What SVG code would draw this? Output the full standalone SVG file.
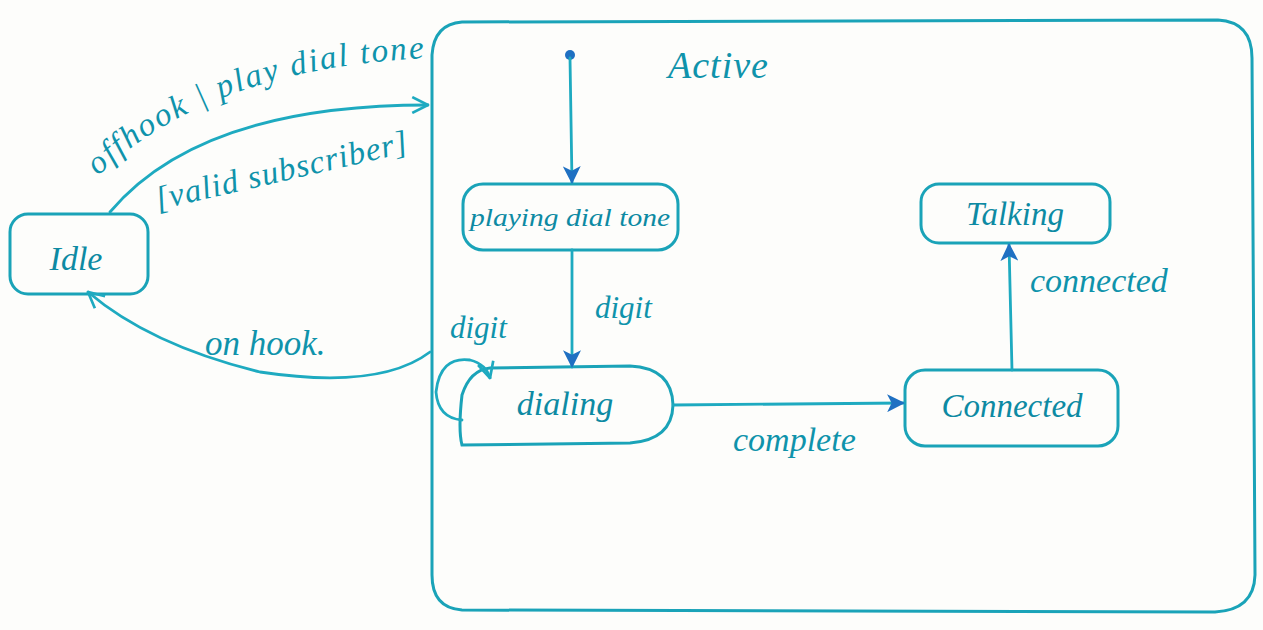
<svg xmlns="http://www.w3.org/2000/svg" width="1263" height="630" viewBox="0 0 1263 630">
  <style>
    .ink { fill: none; stroke: #1eaac0; stroke-width: 2.8; stroke-linecap: round; stroke-linejoin: round; }
    .box { fill: none; stroke: #1aa3b8; stroke-width: 3; }
    .lbl { font-family: "Liberation Serif", serif; font-style: italic; fill: #0f93ab; }
    .name { font-family: "Liberation Serif", serif; font-style: italic; fill: #0d8aa3; text-anchor: middle; }
  </style>
  <defs>
    <marker id="solid" viewBox="0 0 16 16" refX="15" refY="8" markerWidth="18" markerHeight="18" markerUnits="userSpaceOnUse" orient="auto">
      <path d="M0,0 L16,8 L0,16 L4,8 Z" fill="#1f70c2"/>
    </marker>
    <marker id="open" viewBox="0 0 16 16" refX="15" refY="8" markerWidth="18" markerHeight="18" markerUnits="userSpaceOnUse" orient="auto">
      <path d="M1,1 L15,8 L1,15" fill="none" stroke="#1eaac0" stroke-width="2.4"/>
    </marker>
  </defs>
  <rect width="1263" height="630" fill="#fdfdfb"/>

  <!-- composite state -->
  <g id="active">
    <path class="box" d="M462,22 L1218,20 Q1252,22 1252,58 L1255,575 Q1254,610 1215,612 L462,610 Q432,608 432,575 L432,55 Q434,24 462,22 Z"/>
    <text class="lbl" x="668" y="78" font-size="38" letter-spacing="1">Active</text>
  </g>

  <g id="idle">
    <rect class="box" x="10" y="214" width="138" height="80" rx="18"/>
    <text class="name" x="76" y="270" font-size="34">Idle</text>
  </g>

  <g id="initial">
    <circle cx="570" cy="55" r="5" fill="#1f70c2"/>
  </g>

  <g id="playing">
    <rect class="box" x="463" y="184" width="215" height="66" rx="20"/>
    <text class="name" x="570" y="226" font-size="26" textLength="200" lengthAdjust="spacingAndGlyphs">playing dial tone</text>
  </g>

  <g id="dialing">
    <path class="box" d="M490,368 L630,366 Q672,368 673,405 Q672,440 630,443 L462,445 Q458,430 462,395 Q470,370 490,368 Z"/>
    <text class="name" x="565" y="415" font-size="34">dialing</text>
  </g>

  <g id="connected">
    <rect class="box" x="905" y="370" width="213" height="76" rx="20"/>
    <text class="name" x="1012" y="417" font-size="33">Connected</text>
  </g>

  <g id="talking">
    <rect class="box" x="921" y="184" width="189" height="59" rx="18"/>
    <text class="name" x="1015" y="225" font-size="33">Talking</text>
  </g>

  <!-- transitions -->
  <g id="connectors">
    <path class="ink" d="M110,212 Q200,105 428,105" marker-end="url(#open)"/>
    <path class="ink" d="M430,352 Q380,390 260,372 Q150,345 88,292" marker-end="url(#open)"/>
    <path class="ink" d="M570,58 L572,183" marker-end="url(#solid)"/>
    <path class="ink" d="M572,250 L572,367" marker-end="url(#solid)"/>
    <path class="ink" d="M462,420 Q438,418 436,392 Q440,356 470,360 Q486,364 490,378" marker-end="url(#open)"/>
    <path class="ink" d="M673,405 L904,403" marker-end="url(#solid)"/>
    <path class="ink" d="M1012,370 L1009,244" marker-end="url(#solid)"/>
  </g>

  <!-- transition labels -->
  <g id="labels">
    <path id="offhookPath" d="M98,176 Q210,68 428,58" fill="none"/>
    <text class="lbl" font-size="33" letter-spacing="0.5"><textPath href="#offhookPath" textLength="355" lengthAdjust="spacing">offhook | play dial tone</textPath></text>
    <text class="lbl" font-size="33" transform="translate(158,210) rotate(-13)" textLength="258" lengthAdjust="spacing">[valid subscriber]</text>
    <text class="lbl" x="205" y="355" font-size="35">on hook.</text>
    <text class="lbl" x="450" y="338" font-size="31">digit</text>
    <text class="lbl" x="595" y="318" font-size="31">digit</text>
    <text class="lbl" x="733" y="451" font-size="34">complete</text>
    <text class="lbl" x="1030" y="292" font-size="34">connected</text>
  </g>
</svg>
